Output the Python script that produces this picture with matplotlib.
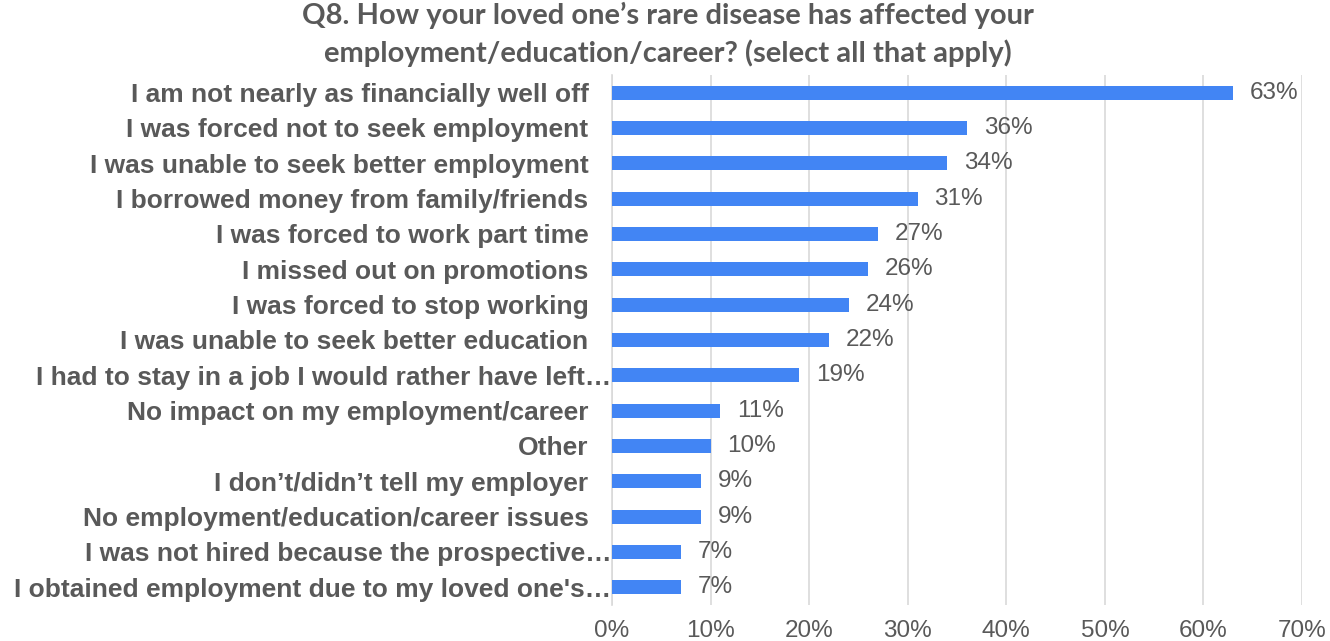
import matplotlib.pyplot as plt
from matplotlib.ticker import MultipleLocator, PercentFormatter

categories = [
    "I am not nearly as financially well off",
    "I was forced not to seek employment",
    "I was unable to seek better employment",
    "I borrowed money from family/friends",
    "I was forced to work part time",
    "I missed out on promotions",
    "I was forced to stop working",
    "I was unable to seek better education",
    "I had to stay in a job I would rather have left\u2026",
    "No impact on my employment/career",
    "Other",
    "I don\u2019t/didn\u2019t tell my employer",
    "No employment/education/career issues",
    "I was not hired because the prospective\u2026",
    "I obtained employment due to my loved one's\u2026",
]
percent = [63, 36, 34, 31, 27, 26, 24, 22, 19, 11, 10, 9, 9, 7, 7]

text_color = "#595959"
bar_color = "#4285F4"

fig = plt.figure(figsize=(13.3, 6.41), dpi=100)
ax = fig.add_axes([0.4602, 0.0562, 0.5188, 0.8268])

y = list(range(len(categories)))
ax.barh(y, percent, height=0.4, color=bar_color, zorder=3)
ax.set_ylim(len(categories) - 0.5, -0.5)
ax.set_xlim(0, 70)
ax.xaxis.set_major_locator(MultipleLocator(10))
ax.xaxis.set_major_formatter(PercentFormatter(decimals=0))

# value labels at the end of each bar
for yi, v in zip(y, percent):
    ax.text(v + 1.7, yi, f"{v}%", va="center", ha="left",
            fontsize=17.5, color=text_color, family="Liberation Sans")

ax.set_yticks(y)
ax.set_yticklabels(categories, fontsize=19, fontweight="bold",
                   color=text_color, family="Liberation Sans")
for tick, label in zip(ax.yaxis.get_major_ticks(), categories):
    tick.set_pad(0.5 if label.endswith("\u2026") else 17)

ax.tick_params(axis="y", length=0)
ax.tick_params(axis="x", length=0, pad=11, labelsize=17.5, labelcolor=text_color)
for lbl in ax.get_xticklabels():
    lbl.set_family("Liberation Sans")

ax.grid(axis="x", color="#D9D9D9", linewidth=1.2, zorder=0)
for side in ["top", "right", "bottom"]:
    ax.spines[side].set_visible(False)
ax.spines["left"].set_color("#D9D9D9")
ax.spines["left"].set_linewidth(1.2)

fig.text(0.502, 0.997,
         "Q8. How your loved one\u2019s rare disease has affected your\n"
         "employment/education/career? (select all that apply)",
         ha="center", va="top", fontsize=21, fontweight="bold",
         color=text_color, family="Lato", linespacing=1.45)

fig.savefig("out.png", dpi=100)
